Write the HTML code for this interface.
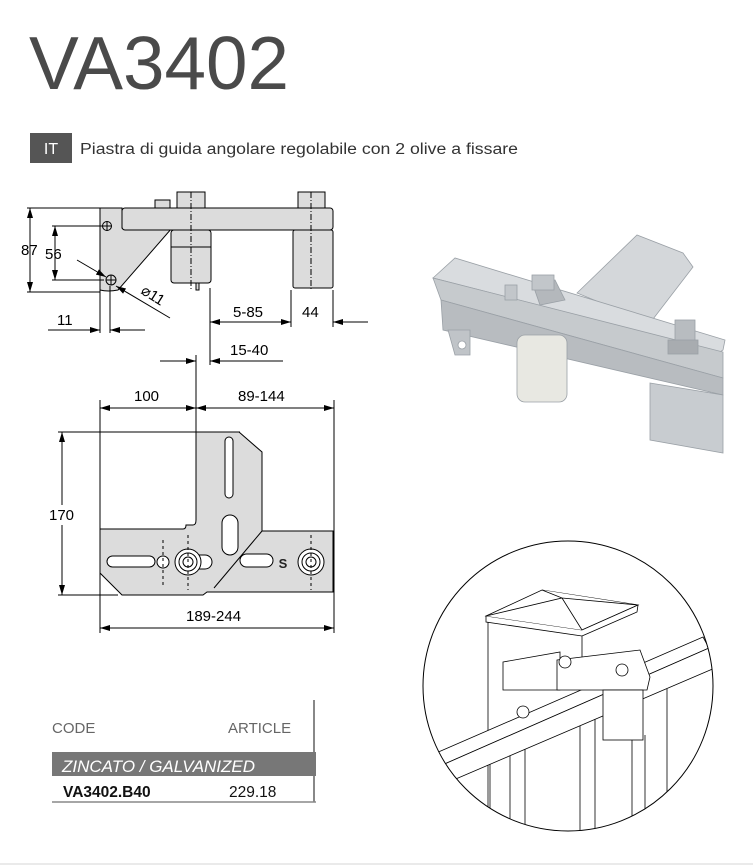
<!DOCTYPE html>
<html><head><meta charset="utf-8"><style>
html,body{margin:0;padding:0;background:#fff;}
svg{display:block;font-family:"Liberation Sans",sans-serif;}
</style></head><body>
<svg width="753" height="867" viewBox="0 0 753 867" xmlns="http://www.w3.org/2000/svg">
<defs>
<marker id="ar" viewBox="0 0 10 6" refX="10" refY="3" markerWidth="10" markerHeight="6" orient="auto-start-reverse" markerUnits="userSpaceOnUse"><path d="M0,0 L10,3 L0,6 Z" fill="#000"/></marker>
<clipPath id="cc"><circle cx="568" cy="686" r="145"/></clipPath>
</defs>
<text x="29" y="89" font-size="75" fill="#4a4a4a" textLength="260" lengthAdjust="spacingAndGlyphs">VA3402</text>
<rect x="30" y="133" width="42" height="30" fill="#555"/>
<text x="51" y="154" font-size="16" fill="#fff" text-anchor="middle">IT</text>
<text x="80" y="154" font-size="15.5" fill="#333" textLength="438" lengthAdjust="spacingAndGlyphs">Piastra di guida angolare regolabile con 2 olive a fissare</text>

<!-- TOP VIEW DRAWING -->
<g stroke="#000" stroke-width="1" fill="#dcdcdc">
<path d="M100,208 L122,208 L122,228 L172,228 L118,290 Q108,292 100,290 Z"/>
<rect x="122" y="208" width="211" height="22" rx="3"/>
<rect x="155" y="200" width="15" height="8"/>
<rect x="177" y="192" width="28" height="16"/>
<rect x="171" y="230" width="40" height="53" rx="3"/>
<line x1="171" y1="247" x2="211" y2="247"/>
<rect x="196" y="283" width="3" height="7"/>
<rect x="293" y="230" width="40" height="58" rx="2"/>
<rect x="298" y="192" width="27" height="16"/>
</g>
<g fill="none" stroke="#000" stroke-width="1">
<circle cx="107" cy="226" r="4.5"/>
<path d="M102,226 H112 M107,221 V231"/>
<circle cx="111" cy="280" r="5"/>
<path d="M106,280 H116 M111,275 V285"/>
<line x1="191" y1="192" x2="191" y2="290" stroke-dasharray="6,2,1,2"/>
<line x1="311" y1="192" x2="311" y2="290" stroke-dasharray="6,2,1,2"/>
<line x1="27" y1="208" x2="100" y2="208"/>
<line x1="27" y1="292" x2="100" y2="292"/>
<line x1="30" y1="208" x2="30" y2="292" marker-start="url(#ar)" marker-end="url(#ar)"/>
<line x1="52" y1="226" x2="102" y2="226"/>
<line x1="52" y1="280" x2="104" y2="280"/>
<line x1="55" y1="226" x2="55" y2="280" marker-start="url(#ar)" marker-end="url(#ar)"/>
<line x1="77" y1="260" x2="106" y2="277" marker-end="url(#ar)"/>
<line x1="170" y1="318" x2="116" y2="286" marker-end="url(#ar)"/>
<line x1="100" y1="290" x2="100" y2="333"/>
<line x1="110" y1="286" x2="110" y2="333"/>
<line x1="48" y1="330" x2="100" y2="330" marker-end="url(#ar)"/>
<line x1="145" y1="330" x2="110" y2="330" marker-end="url(#ar)"/>
<line x1="210" y1="288" x2="210" y2="365"/>
<line x1="291" y1="290" x2="291" y2="327"/>
<line x1="333" y1="290" x2="333" y2="327"/>
<line x1="210" y1="322" x2="291" y2="322" marker-start="url(#ar)" marker-end="url(#ar)"/>
<line x1="368" y1="322" x2="333" y2="322" marker-end="url(#ar)"/>
<line x1="160" y1="361" x2="196" y2="361" marker-end="url(#ar)"/>
<line x1="283" y1="361" x2="210" y2="361" marker-end="url(#ar)"/>
<line x1="196" y1="355" x2="196" y2="432"/>
</g>
<g font-size="15" fill="#000">
<text x="21" y="255">87</text>
<text x="45" y="259">56</text>
<text x="57" y="325">11</text>
<text x="140" y="293" transform="rotate(32 140 293)">⌀11</text>
<text x="233" y="317">5-85</text>
<text x="302" y="317">44</text>
<text x="230" y="355">15-40</text>
</g>

<!-- PLAN DRAWING -->
<path d="M196,432 L239,432 L262,452 L262,531 L333,531 L333,592 L207,592 L203,595 L122,595 L100,573 L100,529 L183,529 Q186,529 186,525 L193,525 Q196,525 196,520 Z" fill="#dcdcdc" stroke="#000"/>
<g fill="#fff" stroke="#000" stroke-width="1">
<rect x="225" y="437" width="8" height="61" rx="4"/>
<rect x="222" y="515" width="16" height="40" rx="8"/>
<rect x="107" y="556" width="48" height="11" rx="5.5"/>
<rect x="240" y="554" width="33" height="13" rx="6.5"/>
<rect x="188" y="555" width="24" height="14" rx="7"/>
<circle cx="163" cy="562" r="6"/>
<circle cx="188" cy="562" r="13"/><circle cx="188" cy="562" r="9"/><circle cx="188" cy="562" r="5"/>
<circle cx="311" cy="562" r="13"/><circle cx="311" cy="562" r="9"/><circle cx="311" cy="562" r="5"/>
</g>
<line x1="262" y1="531" x2="214" y2="588" stroke="#000"/>
<text x="283" y="568" font-size="13" font-weight="bold" text-anchor="middle" fill="#222">S</text>
<g fill="none" stroke="#000" stroke-width="1">
<line x1="163" y1="540" x2="163" y2="585" stroke-dasharray="3,3"/>
<line x1="188" y1="535" x2="188" y2="590" stroke-dasharray="3,3"/>
<line x1="311" y1="535" x2="311" y2="590" stroke-dasharray="3,3"/>
<line x1="100" y1="400" x2="100" y2="633"/>
<line x1="334" y1="400" x2="334" y2="633"/>
<line x1="100" y1="408" x2="196" y2="408" marker-start="url(#ar)" marker-end="url(#ar)"/>
<line x1="196" y1="408" x2="334" y2="408" marker-start="url(#ar)" marker-end="url(#ar)"/>
<line x1="58" y1="432" x2="240" y2="432"/>
<line x1="58" y1="595" x2="118" y2="595"/>
<line x1="62" y1="432" x2="62" y2="595" marker-start="url(#ar)" marker-end="url(#ar)"/>
<line x1="100" y1="628" x2="334" y2="628" marker-start="url(#ar)" marker-end="url(#ar)"/>
</g>
<rect x="48" y="505" width="30" height="20" fill="#fff"/>
<g font-size="15" fill="#000">
<text x="134" y="401">100</text>
<text x="238" y="401">89-144</text>
<text x="49" y="520">170</text>
<text x="186" y="621">189-244</text>
</g>

<!-- 3D RENDER -->
<g stroke="#9aa0a6" stroke-width="0.8">
<path d="M577,293 L637,235 L683,253 L693,267 L650,323 Z" fill="#d4d7da"/>
<path d="M433,278 L455,258 L725,340 L723,350 L720,352 Z" fill="#d9dcdf"/>
<path d="M441,300 L433,278 L723,352 L723,378 Z" fill="#c6cacd"/>
<path d="M441,300 L723,378 L723,395 L443,330 Z" fill="#b8bcc0"/>
<path d="M448,330 L470,330 L470,355 L455,355 Z" fill="#c0c4c8"/>
<circle cx="462" cy="345" r="4" fill="#fff"/>
<rect x="517" y="335" width="50" height="67" rx="8" fill="#e8e8e2"/>
<path d="M650,383 L723,395 L723,453 L650,440 Z" fill="#c8ccd0"/>
<path d="M533,285 L555,280 L565,300 L540,305 Z" fill="#b4b8bc"/>
<rect x="532" y="275" width="22" height="15" fill="#c2c6ca"/>
<rect x="505" y="285" width="12" height="15" fill="#c2c6ca"/>
<rect x="675" y="320" width="20" height="30" fill="#b8bcc0"/>
<rect x="668" y="340" width="30" height="14" fill="#a8acb0"/>
</g>

<!-- CIRCLE ILLUSTRATION -->
<g clip-path="url(#cc)" fill="none" stroke="#000" stroke-width="0.8">
<g fill="#fff">
<path d="M488,622 L488,840 M582,636 L582,700"/>
<path d="M486,616 L542,590 L638,605 L582,630 Z"/>
<path d="M486,616 L486,622 L582,636 L637,612 L638,605 L582,630 Z"/>
<path d="M486,616 L562,598 L582,630 M542,590 L562,598 L638,605"/>
<path d="M420,760 L703,637 L709,648 L424,773 Z"/>
<path d="M424,773 L709,648 L715,668 L430,790 Z"/>
<path d="M503,662 L560,652 L560,690 L503,690 Z"/>
<path d="M557,660 L640,650 L650,677 L647,690 L557,690 Z"/>
<rect x="603" y="690" width="40" height="50"/>
<circle cx="523" cy="712" r="6"/>
<circle cx="565" cy="662" r="6"/>
<circle cx="622" cy="670" r="6"/>
</g>
<path d="M490,764 L490,840 M510,756 L510,840 M525,749 L525,840 M580,726 L580,840 M595,719 L595,840 M632,740 L632,840 M645,735 L645,840 M667,689 L667,840"/>
</g>
<circle cx="568" cy="686" r="145" fill="none" stroke="#000" stroke-width="1"/>

<!-- TABLE -->
<text x="52" y="733" font-size="15" fill="#666">CODE</text>
<text x="228" y="733" font-size="15" fill="#666">ARTICLE</text>
<line x1="314" y1="700" x2="314" y2="802" stroke="#888" stroke-width="2"/>
<rect x="52" y="752" width="264" height="24" fill="#777"/>
<text x="62" y="772" font-size="17" font-style="italic" fill="#fff">ZINCATO / GALVANIZED</text>
<text x="63" y="797" font-size="15.5" font-weight="bold" fill="#111">VA3402.B40</text>
<text x="229" y="797" font-size="15.5" fill="#111">229.18</text>
<line x1="52" y1="802" x2="316" y2="802" stroke="#888" stroke-width="1.5"/>
<line x1="0" y1="864" x2="753" y2="864" stroke="#e4e4e4" stroke-width="1.5"/>
</svg>
</body></html>
